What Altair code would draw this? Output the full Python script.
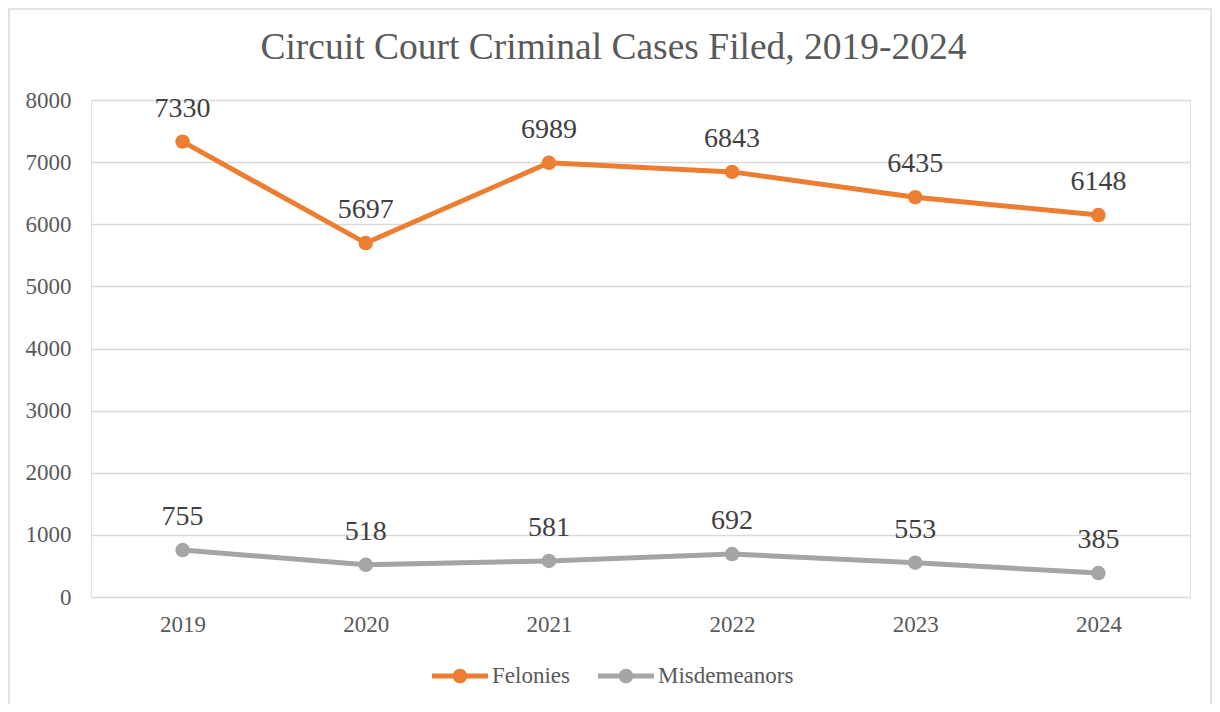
import altair as alt
import pandas as pd

years = ["2019", "2020", "2021", "2022", "2023", "2024"]
felonies = [7330, 5697, 6989, 6843, 6435, 6148]
misdemeanors = [755, 518, 581, 692, 553, 385]
series_names = ["Felonies", "Misdemeanors"]
series_colors = ["#ED7D31", "#A5A5A5"]
y_ticks = [0, 1000, 2000, 3000, 4000, 5000, 6000, 7000, 8000]

rows = []
for i, y in enumerate(years):
    rows.append({"year": y, "series": "Felonies", "value": felonies[i]})
for i, y in enumerate(years):
    rows.append({"year": y, "series": "Misdemeanors", "value": misdemeanors[i]})
df = pd.DataFrame(rows)

FONT = "Liberation Serif"
W, H = 1099, 497

legend_path = (
    "M -1 -0.09 L 1 -0.09 L 1 0.09 L -1 0.09 Z "
    "M -0.26 0 A 0.26 0.26 0 1 1 0.26 0 A 0.26 0.26 0 1 1 -0.26 0 Z"
)

x_enc = alt.X("year:O", scale=alt.Scale(type="point", padding=0.5),
              axis=alt.Axis(title=None, labelAngle=0, domain=False, ticks=False,
                            tickSize=0, labelPadding=16, labelFontSize=23,
                            labelFont=FONT, labelColor="#595959", grid=False))
y_enc = alt.Y("value:Q", scale=alt.Scale(domain=[0, 8000], nice=False),
              axis=alt.Axis(title=None, values=y_ticks, format="d", domain=False,
                            ticks=False, tickSize=0, labelPadding=20,
                            labelFontSize=23, labelFont=FONT, labelColor="#595959",
                            gridColor="#D9D9D9", gridWidth=1.5))
color_enc = alt.Color("series:N",
                      scale=alt.Scale(domain=series_names, range=series_colors),
                      legend=alt.Legend(title=None, orient="none", direction="horizontal",
                                        legendX=341, legendY=548,
                                        symbolType=legend_path, symbolSize=3136,
                                        symbolStrokeWidth=0, labelFont=FONT,
                                        labelFontSize=23, labelColor="#595959",
                                        labelOffset=4, columnPadding=28))

base = alt.Chart(df).encode(x=x_enc, y=y_enc, color=color_enc)

lines = base.mark_line(strokeWidth=5)
points = base.mark_point(filled=True, size=210, opacity=1)
labels = alt.Chart(df).mark_text(font=FONT, fontSize=28, color="#404040",
                                 baseline="alphabetic", dy=-25).encode(
    x=alt.X("year:O", scale=alt.Scale(type="point", padding=0.5)),
    y=alt.Y("value:Q", scale=alt.Scale(domain=[0, 8000], nice=False)),
    text=alt.Text("value:Q", format="d"))

border = alt.Chart(pd.DataFrame({"k": [0]})).mark_rect(
    fill=None, stroke="#D9D9D9", strokeWidth=1.5).encode(
    x=alt.value(-82), x2=alt.value(1120), y=alt.value(-91), y2=alt.value(605))

chart = alt.layer(border, lines, points, labels).properties(
    width=W, height=H,
    title=alt.TitleParams("Circuit Court Criminal Cases Filed, 2019-2024",
                          font=FONT, fontSize=37.5, fontWeight="normal",
                          color="#595959", anchor="middle", frame="group",
                          baseline="alphabetic", offset=-88, dx=-27),
    padding={"left": 83, "top": 92, "right": 22, "bottom": 107},
    autosize=alt.AutoSizeParams(type="none"),
).configure_view(stroke=None).configure(background="white", font=FONT)

chart.save("out.html", embed_options={"renderer": "svg", "actions": False})
